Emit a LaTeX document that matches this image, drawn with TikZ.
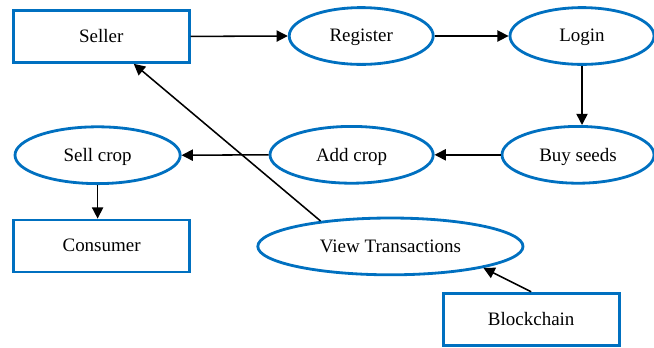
\documentclass[tikz,border=0pt]{standalone}
\usepackage{fontspec}
\setmainfont{Liberation Serif}
\usetikzlibrary{arrows.meta,shapes.geometric}
\definecolor{flowblue}{RGB}{0,112,192}

\begin{document}
\begin{tikzpicture}[>={Triangle[length=8pt,width=8pt]},
    actor/.style={rectangle, draw=flowblue, line width=2pt, minimum width=4.4cm, minimum height=1.3cm, text depth=0.1ex, font=\fontsize{13.5}{16}\selectfont},
    usecase/.style={ellipse, draw=flowblue, line width=2pt, inner sep=0pt, minimum height=1.42cm, text depth=0.1ex, font=\fontsize{13.5}{16}\selectfont},
    flow/.style={->, line width=1.1pt}]
        \useasboundingbox (0,0) rectangle (16.35,-8.675);

        % Nodes
        \node[actor] (Seller) at (2.53,-0.91) {Seller};
        \node[usecase, minimum width=3.6cm] (Register) at (9.03,-0.9) {Register};
        \node[usecase, minimum width=3.6cm] (Login) at (14.55,-0.9) {Login};
        \node[usecase, minimum width=3.8cm] (BuySeeds) at (14.45,-3.87) {Buy seeds};
        \node[usecase, minimum width=4.08cm] (AddCrop) at (8.79,-3.87) {Add crop};
        \node[usecase, minimum width=4.13cm] (SellCrop) at (2.44,-3.88) {Sell crop};
        \node[actor] (Consumer) at (2.54,-6.15) {Consumer};
        \node[usecase, minimum width=6.63cm] (ViewTx) at (9.76,-6.16) {View Transactions};
        \node[actor] (Blockchain) at (13.28,-7.98) {Blockchain};

        % Edges
        \draw[flow] (Seller.east) -- (Register.west);
        \draw[flow] (Register.east) -- (Login.west);
        \draw[flow] (Login.south) -- (Login.south |- BuySeeds.north);
        \draw[flow] (BuySeeds.west) -- (AddCrop.east);
        \draw[flow] (AddCrop.west) -- (SellCrop.east);
        \draw[flow] (SellCrop.south) -- (SellCrop.south |- Consumer.north);
        \draw[flow] (ViewTx.160) -- (Seller);
        \draw[flow] (Blockchain.north) -- (ViewTx.-13);
    \end{tikzpicture}
\end{document}
